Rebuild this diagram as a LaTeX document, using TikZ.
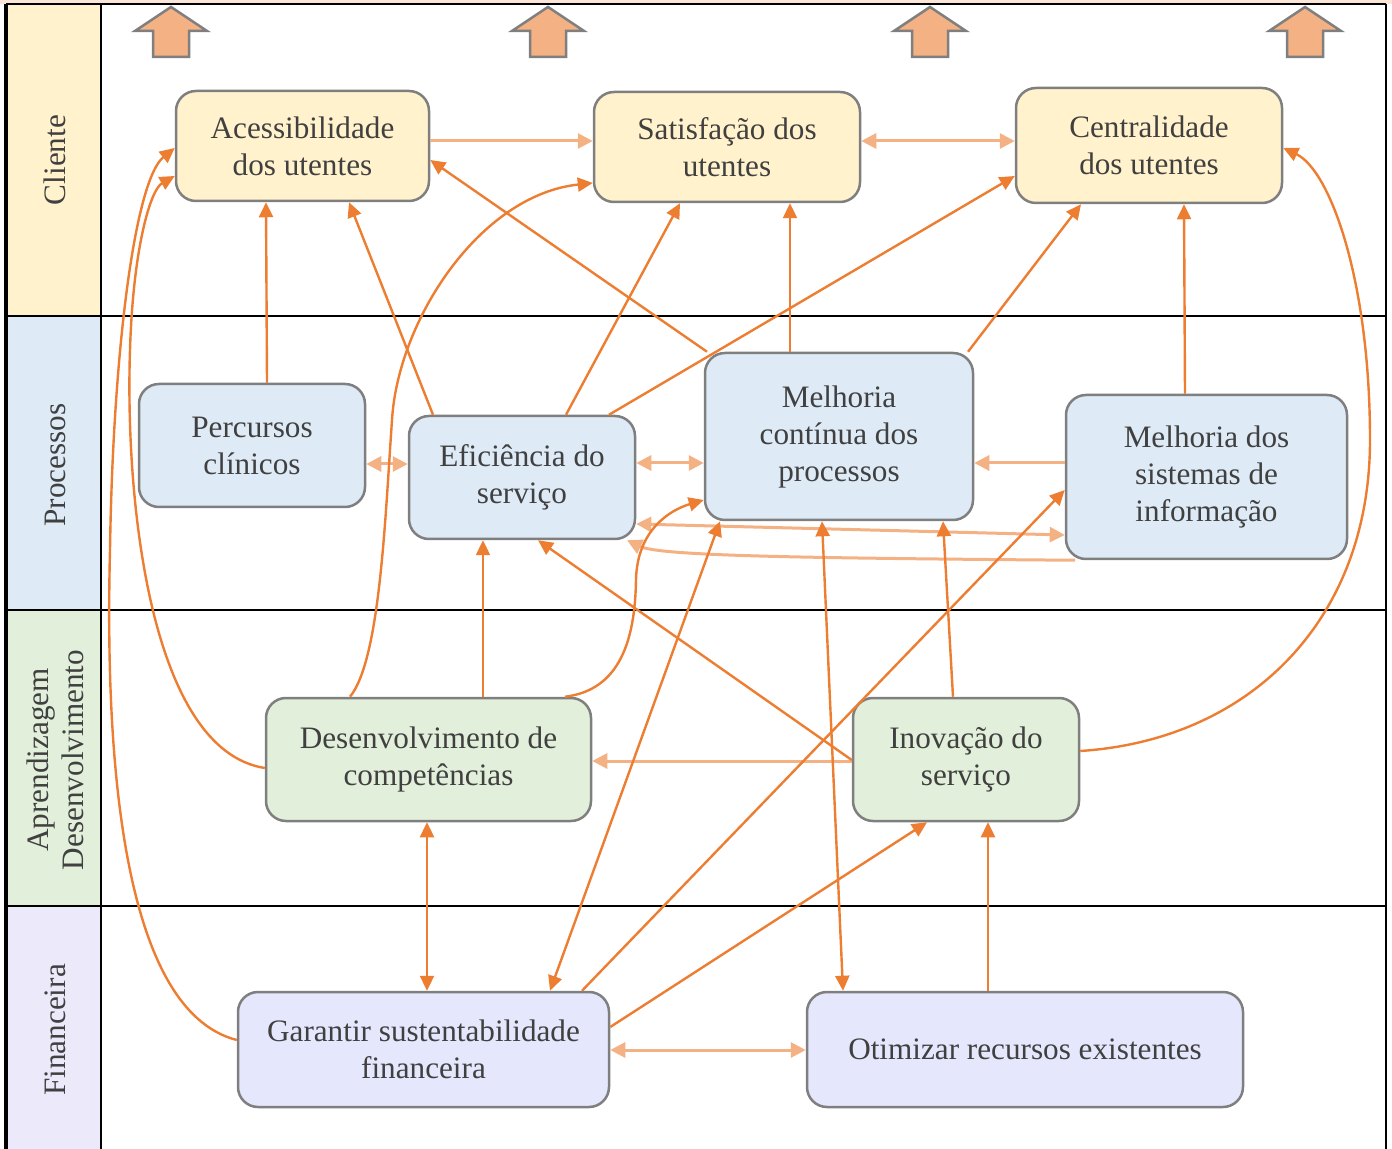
\documentclass[tikz,border=0pt]{standalone}
\usepackage{fontspec}
\setmainfont{Liberation Serif}
\usetikzlibrary{arrows.meta}
\definecolor{dorange}{HTML}{ED7D31}
\definecolor{lorange}{HTML}{F4B183}
\definecolor{txtgray}{HTML}{404040}
\definecolor{bordgray}{HTML}{7F7F7F}
\definecolor{cyel}{HTML}{FFF2CC}
\definecolor{cblue}{HTML}{DEEAF6}
\definecolor{cgreen}{HTML}{E2EFDA}
\definecolor{clav}{HTML}{E5E7FD}
\definecolor{clavcol}{HTML}{ECE9FB}
\definecolor{toppeach}{HTML}{FBE5D6}
\begin{document}
\begin{tikzpicture}[x=0.5pt,y=-0.5pt,
  box/.style={draw=bordgray,line width=1.25pt,rounded corners=10pt,align=center,
    text=txtgray,font=\fontsize{15.6}{18.5}\selectfont,inner sep=0pt},
  lane/.style={text=txtgray,font=\fontsize{15.6}{17.5}\selectfont,rotate=90,align=center},
  dk/.style={draw=dorange,line width=1.2pt,-{Triangle[length=7.5pt,width=7pt]}},
  dkb/.style={draw=dorange,line width=1.2pt,{Triangle[length=7.5pt,width=7pt]}-{Triangle[length=7.5pt,width=7pt]}},
  lt/.style={draw=lorange,line width=1.5pt,-{Triangle[length=7.5pt,width=7.5pt]}},
  ltb/.style={draw=lorange,line width=1.5pt,{Triangle[length=7.5pt,width=7.5pt]}-{Triangle[length=7.5pt,width=7.5pt]}},
  upblk/.style={fill=lorange,draw=bordgray,line width=1.25pt,line join=miter}]
\useasboundingbox (0,0) rectangle (1392,1149);
% background lanes
\fill[toppeach] (0,0) rectangle (1392,4);
\fill[cyel] (6,4) rectangle (101,316);
\fill[cblue] (6,316) rectangle (101,610);
\fill[cgreen] (6,610) rectangle (101,906);
\fill[clavcol] (6,906) rectangle (101,1149);
\draw[line width=1.3pt] (6,4) -- (1386,4);
\draw[line width=1.3pt] (6,316) -- (1386,316);
\draw[line width=1.3pt] (6,610) -- (1386,610);
\draw[line width=1.3pt] (6,906) -- (1386,906);
\draw[line width=2pt] (6,4) -- (6,1149);
\draw[line width=1.3pt] (101,4) -- (101,1149);
\draw[line width=1.3pt] (1386,4) -- (1386,1149);
\node[lane] (lcli) at (55,160) {Cliente};
\node[lane] (lpro) at (55,465) {Processos};
\node[lane] (lapr) at (55,760) {Aprendizagem\\Desenvolvimento};
\node[lane] (lfin) at (55,1030) {Financeira};
% top block arrows
\foreach \cx in {171,548,930,1305}{
  \draw[upblk] (\cx,7) -- (\cx+36,31) -- (\cx+18,31) -- (\cx+18,57) -- (\cx-18,57) -- (\cx-18,31) -- (\cx-36,31) -- cycle;
}
% nodes
\node[box,fill=cyel,minimum width=126.5pt,minimum height=55pt] (acc) at (302.5,146) {Acessibilidade\\dos utentes};
\node[box,fill=cyel,minimum width=133pt,minimum height=55pt] (sat) at (727,147) {Satisfação dos\\utentes};
\node[box,fill=cyel,minimum width=133pt,minimum height=57.5pt] (cen) at (1149,145.5) {Centralidade\\dos utentes};
\node[box,fill=cblue,minimum width=113pt,minimum height=61.5pt] (per) at (252,445.5) {Percursos\\clínicos};
\node[box,fill=cblue,minimum width=113pt,minimum height=61.5pt] (efi) at (522,477.5) {Eficiência do\\serviço};
\node[box,fill=cblue,minimum width=134pt,minimum height=83.5pt] (mcp) at (839,436.5) {Melhoria\\contínua dos\\processos};
\node[box,fill=cblue,minimum width=140.5pt,minimum height=82pt] (msi) at (1206.5,477) {Melhoria dos\\sistemas de\\informação};
\node[box,fill=cgreen,minimum width=162.5pt,minimum height=61.5pt] (des) at (428.5,759.5) {Desenvolvimento de\\competências};
\node[box,fill=cgreen,minimum width=113pt,minimum height=61.5pt] (ino) at (966,759.5) {Inovação do\\serviço};
\node[box,fill=clav,minimum width=185.5pt,minimum height=57.5pt] (gar) at (423.5,1049.5) {Garantir sustentabilidade\\financeira};
\node[box,fill=clav,minimum width=218pt,minimum height=57.5pt] (oti) at (1025,1049.5) {Otimizar recursos existentes};
% light connectors
\draw[lt] (acc.east |- 0,141) -- (sat.west |- 0,141);
\draw[ltb] (sat.east |- 0,141) -- (cen.west |- 0,141);
\draw[ltb] (per.east |- 0,464) -- (efi.west |- 0,464);
\draw[ltb] (efi.east |- 0,463) -- (mcp.west |- 0,463);
\draw[lt] (msi.west |- 0,463) -- (mcp.east |- 0,463);
\draw[ltb] (efi.east |- 0,524) -- (msi.west |- 0,535);
\draw[lt] (msi.south -| 1075,0) .. controls (800,558) and (660,556) .. (efi.south -| 627,0);
\draw[lt] (ino.west |- 0,761) -- (des.east |- 0,761);
\draw[ltb] (gar.east |- 0,1050) -- (oti.west |- 0,1050);
% dark connectors
\draw[dk] (per.north -| 267,0) -- (acc.south -| 266,0);
\draw[dk] (efi.north -| 433,0) -- (acc.south -| 349,0);
\draw[dk] (efi.north -| 566,0) -- (sat.south -| 680,0);
\draw[dk] (efi.north -| 609,0) -- (cen.west |- 0,176);
\draw[dk] (mcp.north -| 790,0) -- (sat.south -| 790,0);
\draw[dk] (mcp.north -| 707,0) -- (acc.east |- 0,160);
\draw[dk] (mcp.north -| 968,0) -- (cen.south -| 1081,0);
\draw[dk] (msi.north -| 1185,0) -- (cen.south -| 1184,0);
\draw[dk] (des.north -| 483,0) -- (efi.south -| 483,0);
\draw[dk] (des.north -| 350,0) .. controls (380,660) and (385,520) .. (392,420)
  .. controls (398,320) and (480,195) .. (sat.west |- 0,183);
\draw[dk] (des.north -| 565,0) .. controls (620,690) and (635,640) .. (636,580)
  .. controls (637,530) and (670,510) .. (mcp.west |- 0,500);
\draw[dk] (des.west |- 0,768) .. controls (150,750) and (125,500) .. (130,350)
  .. controls (133,250) and (150,190) .. (acc.west |- 0,176);
\draw[dk] (gar.west |- 0,1040) .. controls (120,1010) and (105,750) .. (110,550)
  .. controls (113,350) and (135,180) .. (acc.west |- 0,148);
\draw[dk] (ino.north -| 953,0) -- (mcp.south -| 943,0);
\draw[dk] (ino.west |- 0,760) -- (efi.south -| 538,0);
\draw[dk] (ino.east |- 0,751) .. controls (1250,740) and (1370,620) .. (1370,440)
  .. controls (1370,280) and (1330,170) .. (cen.east |- 0,148);
\draw[dkb] (gar.north -| 427,0) -- (des.south -| 427,0);
\draw[dkb] (mcp.south -| 720,0) -- (gar.north -| 550,0);
\draw[dkb] (mcp.south -| 822,0) -- (oti.north -| 843,0);
\draw[dk] (gar.north -| 582,0) -- (msi.west |- 0,490);
\draw[dk] (gar.east |- 0,1027) -- (ino.south -| 927,0);
\draw[dk] (oti.north -| 988,0) -- (ino.south -| 988,0);
\end{tikzpicture}
\end{document}
